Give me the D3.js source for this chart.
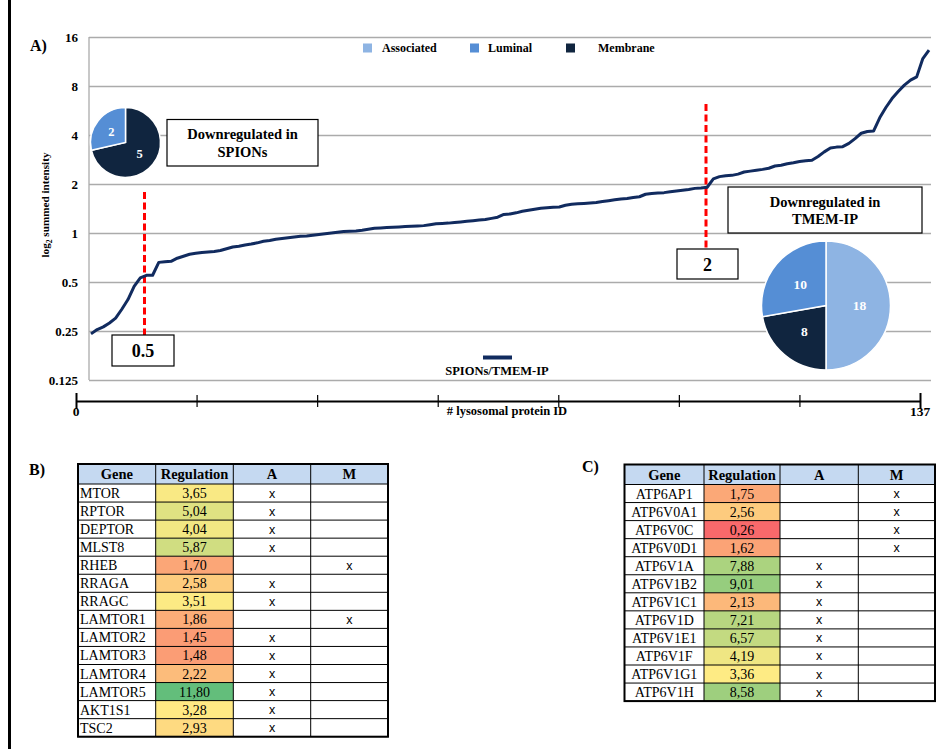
<!DOCTYPE html>
<html>
<head>
<meta charset="utf-8">
<script src="https://cdn.jsdelivr.net/npm/d3@7"></script>
<style>
  html, body { margin: 0; padding: 0; background: #fff; }
  svg { display: block; }
</style>
</head>
<body>
<svg id="fig" width="938" height="749" font-family="Liberation Serif, Times New Roman, serif"></svg>
<script>
// ---- Panel A: sorted SPIONs/TMEM-IP ratios of lysosomal proteins ----
const ratios = [
  0.24, 0.255, 0.265, 0.28, 0.30, 0.34, 0.39, 0.47, 0.53, 0.55,
  0.55, 0.66, 0.665, 0.67, 0.70, 0.72, 0.74, 0.75, 0.76, 0.765,
  0.77, 0.78, 0.80, 0.82, 0.83, 0.845, 0.855, 0.87, 0.89, 0.90,
  0.915, 0.925, 0.935, 0.945, 0.955, 0.96, 0.97, 0.98, 0.99, 1.00,
  1.01, 1.02, 1.025, 1.03, 1.04, 1.055, 1.07, 1.075, 1.08, 1.085,
  1.09, 1.095, 1.10, 1.105, 1.11, 1.125, 1.14, 1.145, 1.15, 1.16,
  1.17, 1.18, 1.19, 1.20, 1.21, 1.23, 1.25, 1.30, 1.31, 1.33,
  1.36, 1.38, 1.40, 1.42, 1.43, 1.44, 1.445, 1.48, 1.50, 1.51,
  1.52, 1.53, 1.54, 1.56, 1.58, 1.60, 1.62, 1.63, 1.65, 1.67,
  1.73, 1.75, 1.76, 1.77, 1.79, 1.81, 1.83, 1.85, 1.88, 1.89,
  1.91, 2.15, 2.22, 2.25, 2.26, 2.30, 2.37, 2.40, 2.43, 2.46,
  2.50, 2.58, 2.61, 2.66, 2.70, 2.75, 2.78, 2.80, 2.95, 3.15,
  3.33, 3.37, 3.39, 3.55, 3.80, 4.10, 4.20, 4.23, 5.10, 5.90,
  6.70, 7.40, 8.10, 8.70, 9.10, 11.8, 13.3
];
const yTicks = [0.125, 0.25, 0.5, 1, 2, 4, 8, 16];
const proteinCount = 137;
const thresholds = [0.5, 2];

const locations = ["Associated", "Luminal", "Membrane"];
const locationColors = ["#8EB4E3", "#558ED5", "#10253F"];
const downSpions = [ { loc: "Membrane", value: 5 }, { loc: "Luminal", value: 2 } ];
const downTmem = [ { loc: "Associated", value: 18 }, { loc: "Membrane", value: 8 }, { loc: "Luminal", value: 10 } ];

// ---- Panel B: mTORC1 pathway genes ----
const genesB = ["MTOR","RPTOR","DEPTOR","MLST8","RHEB","RRAGA","RRAGC","LAMTOR1","LAMTOR2","LAMTOR3","LAMTOR4","LAMTOR5","AKT1S1","TSC2"];
const regB   = [3.65, 5.04, 4.04, 5.87, 1.70, 2.58, 3.51, 1.86, 1.45, 1.48, 2.22, 11.80, 3.28, 2.93];
const locB   = ["A","A","A","A","M","A","A","M","A","A","A","A","A","A"];

// ---- Panel C: V-ATPase subunits ----
const genesC = ["ATP6AP1","ATP6V0A1","ATP6V0C","ATP6V0D1","ATP6V1A","ATP6V1B2","ATP6V1C1","ATP6V1D","ATP6V1E1","ATP6V1F","ATP6V1G1","ATP6V1H"];
const regC   = [1.75, 2.56, 0.26, 1.62, 7.88, 9.01, 2.13, 7.21, 6.57, 4.19, 3.36, 8.58];
const locC   = ["M","M","M","M","A","A","A","A","A","A","A","A"];

const SERIF = "Liberation Serif, Times New Roman, serif";
const SANS = "Liberation Sans, Arial, sans-serif";

const svg = d3.select("#fig");
svg.append("rect").attr("width", 938).attr("height", 749).attr("fill", "#fff");
svg.append("line").attr("x1", 9.5).attr("x2", 9.5).attr("y1", 0).attr("y2", 749)
  .attr("stroke", "#000").attr("stroke-width", 3);

const navy = "#112B5F";
const color = d3.scaleOrdinal().domain(locations).range(locationColors);

// ---------- Panel A ----------
const x = d3.scaleLinear().domain([0, ratios.length - 1]).range([91, 929]);
const y = d3.scaleLog().base(2).domain([0.125, 16]).range([380, 37]);

svg.append("text").attr("x", 30).attr("y", 51).attr("font-size", 16).attr("font-weight", "bold").text("A)");

const gy = svg.append("g").attr("transform", "translate(89,0)")
  .call(d3.axisLeft(y).tickValues(yTicks).tickFormat(d => String(d)).tickSize(-842).tickPadding(11));
gy.attr("font-family", SERIF);
gy.select(".domain").remove();
gy.selectAll(".tick line").attr("stroke", "#ababab").attr("stroke-width", 1.3);
gy.selectAll(".tick text").attr("font-size", 13).attr("font-weight", "bold").attr("fill", "#000");
svg.append("line").attr("x1", 89).attr("x2", 89).attr("y1", y(16)).attr("y2", y(0.125))
  .attr("stroke", "#ababab").attr("stroke-width", 1.3);

const yt = svg.append("text").attr("transform", "translate(49,205) rotate(-90)")
  .attr("text-anchor", "middle").attr("font-size", 11.2).attr("font-weight", "bold");
yt.append("tspan").text("log");
yt.append("tspan").attr("font-size", 7.5).attr("dy", 3).text("2");
yt.append("tspan").attr("dy", -3).text(" summed intensity");

// category legend
const leg = svg.append("g");
const legX = [363, 470, 566], legTX = [382, 488, 598];
locations.forEach((l, i) => {
  leg.append("rect").attr("x", legX[i]).attr("y", 43.5).attr("width", 9).attr("height", 9)
    .attr("fill", color(l));
  leg.append("text").attr("x", legTX[i]).attr("y", 52).attr("font-size", 12).attr("font-weight", "bold").text(l);
});

// threshold markers
const thrLines = [ { v: 0.5, x: 144.5, y1: 192, y2: 336 }, { v: 2, x: 706, y1: 104, y2: 249 } ];
thrLines.forEach(t => {
  svg.append("line").attr("x1", t.x).attr("x2", t.x).attr("y1", t.y1).attr("y2", t.y2)
    .attr("stroke", "#FF0000").attr("stroke-width", 3).attr("stroke-dasharray", "7,3.5");
});

// ratio curve
const line = d3.line().x((d, i) => x(i)).y(d => y(d));
svg.append("path").datum(ratios).attr("d", line).attr("fill", "none")
  .attr("stroke", navy).attr("stroke-width", 3).attr("stroke-linejoin", "round");

// boxes with threshold values
function box(x0, y0, w, h) {
  svg.append("rect").attr("x", x0).attr("y", y0).attr("width", w).attr("height", h)
    .attr("fill", "#fff").attr("stroke", "#000").attr("stroke-width", 1.2);
}
box(112, 335, 62, 31);
svg.append("text").attr("x", 143).attr("y", 357).attr("text-anchor", "middle")
  .attr("font-size", 18).attr("font-weight", "bold").text(thresholds[0]);
box(677, 249, 61, 30);
svg.append("text").attr("x", 707.5).attr("y", 271).attr("text-anchor", "middle")
  .attr("font-size", 18).attr("font-weight", "bold").text(thresholds[1]);

box(167, 119.5, 151, 46.5);
svg.append("text").attr("x", 242.5).attr("y", 139).attr("text-anchor", "middle")
  .attr("font-size", 14.5).attr("font-weight", "bold").text("Downregulated in");
svg.append("text").attr("x", 242.5).attr("y", 157).attr("text-anchor", "middle")
  .attr("font-size", 14.5).attr("font-weight", "bold").text("SPIONs");
box(728, 187, 194, 46);
svg.append("text").attr("x", 825).attr("y", 207).attr("text-anchor", "middle")
  .attr("font-size", 14.5).attr("font-weight", "bold").text("Downregulated in");
svg.append("text").attr("x", 825).attr("y", 224).attr("text-anchor", "middle")
  .attr("font-size", 14.5).attr("font-weight", "bold").text("TMEM-IP");

// pies
function drawPie(data, cx, cy, r, fs) {
  const pie = d3.pie().sort(null).value(d => d.value);
  const arc = d3.arc().innerRadius(0).outerRadius(r);
  const lab = d3.arc().innerRadius(r * 0.52).outerRadius(r * 0.52);
  const g = svg.append("g").attr("transform", `translate(${cx},${cy})`);
  const arcs = pie(data);
  g.selectAll("path").data(arcs).join("path").attr("d", arc)
    .attr("fill", d => color(d.data.loc)).attr("stroke", "#fff").attr("stroke-width", 1.5);
  g.selectAll("text").data(arcs).join("text")
    .attr("transform", d => `translate(${lab.centroid(d)})`)
    .attr("text-anchor", "middle").attr("dy", "0.35em")
    .attr("font-size", fs).attr("font-weight", "bold").attr("fill", "#fff")
    .text(d => d.data.value);
}
drawPie(downSpions, 125.5, 142.5, 35, 12.5);
drawPie(downTmem, 826, 305.5, 64.5, 13.5);

// series legend
svg.append("line").attr("x1", 483).attr("x2", 512).attr("y1", 357.5).attr("y2", 357.5)
  .attr("stroke", navy).attr("stroke-width", 4);
svg.append("text").attr("x", 497).attr("y", 375).attr("text-anchor", "middle")
  .attr("font-size", 12.5).attr("font-weight", "bold").text("SPIONs/TMEM-IP");

// bottom protein-ID axis
const xb = d3.scaleLinear().domain([0, proteinCount]).range([76, 920]);
const xbTicks = d3.range(8).map(k => k * proteinCount / 7);
const gx = svg.append("g").attr("transform", "translate(0,401)")
  .call(d3.axisBottom(xb).tickValues(xbTicks).tickSize(0).tickFormat(""));
gx.select(".domain").attr("stroke", "#000").attr("stroke-width", 2);
gx.selectAll(".tick line").attr("y1", -6).attr("y2", 6).attr("stroke", "#000").attr("stroke-width", 1.2);
gx.selectAll(".tick").filter(d => d === 0 || d === proteinCount).select("line")
  .attr("y1", -8).attr("y2", 8).attr("stroke-width", 2);
[0, proteinCount].forEach(v => {
  svg.append("text").attr("x", xb(v)).attr("y", 416).attr("text-anchor", "middle")
    .attr("font-size", 13.5).attr("font-weight", "bold").text(v);
});
svg.append("text").attr("x", 507).attr("y", 415).attr("text-anchor", "middle")
  .attr("font-size", 12.5).attr("font-weight", "bold").text("# lysosomal protein ID");

// ---------- Tables B and C ----------
const allReg = regB.concat(regC);
const heat = d3.scaleLinear()
  .domain([d3.min(allReg), d3.median(allReg), d3.max(allReg)])
  .range(["#F8696B", "#FFEB84", "#63BE7B"]);
const fmt = v => v.toFixed(2).replace(".", ",");

function table(x0, y0, colX, genes, regs, locs, alignGene) {
  const headH = 20, rowH = 18.05;
  const right = colX[colX.length - 1];
  const g = svg.append("g");
  g.append("rect").attr("x", x0).attr("y", y0).attr("width", right - x0).attr("height", headH).attr("fill", "#C5D9F1");
  const cols = [x0].concat(colX);
  const heads = ["Gene", "Regulation", "A", "M"];
  heads.forEach((h, i) => {
    g.append("text").attr("x", (cols[i] + cols[i + 1]) / 2).attr("y", y0 + 15)
      .attr("text-anchor", "middle").attr("font-size", 14.5).attr("font-weight", "bold").text(h);
  });
  genes.forEach((gn, r) => {
    const ry = y0 + headH + r * rowH;
    g.append("rect").attr("x", cols[1]).attr("y", ry).attr("width", cols[2] - cols[1]).attr("height", rowH)
      .attr("fill", heat(regs[r]));
    if (alignGene === "start") {
      g.append("text").attr("x", cols[0] + 2).attr("y", ry + 14).attr("font-size", 14).text(gn);
    } else {
      g.append("text").attr("x", (cols[0] + cols[1]) / 2).attr("y", ry + 14).attr("text-anchor", "middle")
        .attr("font-size", 14).text(gn);
    }
    g.append("text").attr("x", (cols[1] + cols[2]) / 2).attr("y", ry + 14).attr("text-anchor", "middle")
      .attr("font-size", 14).text(fmt(regs[r]));
    const ci = locs[r] === "A" ? 2 : 3;
    g.append("text").attr("x", (cols[ci] + cols[ci + 1]) / 2).attr("y", ry + 13.5).attr("text-anchor", "middle")
      .attr("font-family", SANS).attr("font-size", 12.5).text("x");
  });
  const bottom = y0 + headH + genes.length * rowH;
  // grid lines
  for (let r = 0; r <= genes.length; r++) {
    const ly = y0 + headH + r * rowH;
    g.append("line").attr("x1", x0).attr("x2", right).attr("y1", ly).attr("y2", ly).attr("stroke", "#000").attr("stroke-width", 1);
  }
  cols.slice(1, -1).forEach(cx => {
    g.append("line").attr("x1", cx).attr("x2", cx).attr("y1", y0).attr("y2", bottom).attr("stroke", "#000").attr("stroke-width", 1);
  });
  g.append("rect").attr("x", x0).attr("y", y0).attr("width", right - x0).attr("height", bottom - y0)
    .attr("fill", "none").attr("stroke", "#000").attr("stroke-width", 2);
}

svg.append("text").attr("x", 29).attr("y", 475).attr("font-size", 16).attr("font-weight", "bold").text("B)");
table(78, 464, [155.7, 233.3, 310.7, 388], genesB, regB, locB, "start");
svg.append("text").attr("x", 582).attr("y", 472).attr("font-size", 16).attr("font-weight", "bold").text("C)");
table(624.5, 464.5, [704, 780, 858.3, 935], genesC, regC, locC, "middle");
</script>
</body>
</html>
